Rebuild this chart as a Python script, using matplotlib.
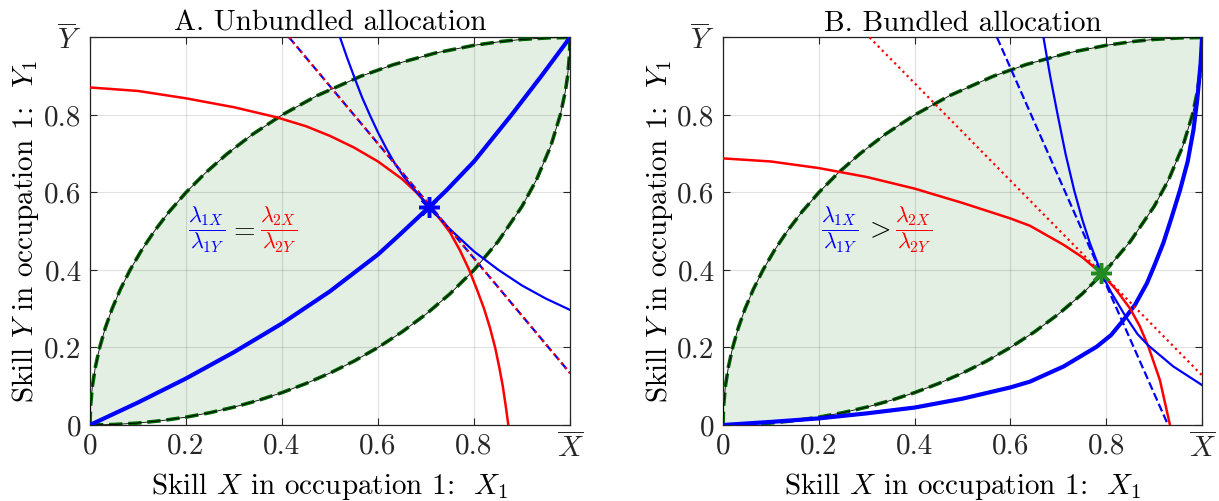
import numpy as np
import matplotlib
matplotlib.use("Agg")
import matplotlib.pyplot as plt

plt.rcParams['font.family'] = 'serif'
plt.rcParams['font.serif'] = ['cmr10']
plt.rcParams['mathtext.fontset'] = 'cm'
plt.rcParams['axes.formatter.use_mathtext'] = True

# lens boundary (lower edge); upper edge is the same curve mirrored
lens_x = [0, 0.05, 0.1, 0.15, 0.2, 0.25, 0.3, 0.35, 0.4, 0.45, 0.5, 0.55, 0.6,
          0.65, 0.7, 0.75, 0.8, 0.85, 0.9, 0.93, 0.96, 0.98, 0.99, 0.995, 0.999, 1.0]
lens_y = [0, 0.0013, 0.005, 0.0113, 0.0202, 0.0318, 0.0461, 0.0633, 0.0835, 0.107,
          0.134, 0.1648, 0.2, 0.2401, 0.2859, 0.3386, 0.4, 0.4732, 0.5641, 0.6324,
          0.72, 0.801, 0.859, 0.9, 0.955, 1.0]

# panel A
a_thick_x = [0, 0.1, 0.2, 0.3, 0.4, 0.5, 0.6, 0.646, 0.707, 0.743, 0.8, 0.878, 0.94, 1.0]
a_thick_y = [0, 0.058, 0.12, 0.188, 0.262, 0.345, 0.44, 0.492, 0.563, 0.606, 0.68, 0.8, 0.9, 1.0]
a_red_x = [0, 0.1, 0.2, 0.3, 0.389, 0.45, 0.5, 0.55, 0.6, 0.65, 0.68, 0.707, 0.73, 0.75,
           0.771, 0.79, 0.806, 0.821, 0.8335, 0.844, 0.8525, 0.86, 0.866, 0.8715]
a_red_y = [0.871, 0.862, 0.843, 0.82, 0.794, 0.771, 0.746, 0.716, 0.68, 0.635, 0.6,
           0.563, 0.53, 0.497, 0.45, 0.4, 0.35, 0.3, 0.25, 0.2, 0.15, 0.1, 0.05, 0]
a_ind_x = [0.521, 0.535, 0.552, 0.567, 0.583, 0.6, 0.618, 0.635, 0.653, 0.677, 0.707,
           0.75, 0.8, 0.85, 0.9, 0.95, 1.0]
a_ind_y = [1.0, 0.95, 0.893, 0.845, 0.8, 0.755, 0.712, 0.675, 0.642, 0.606, 0.563,
           0.505, 0.448, 0.401, 0.36, 0.326, 0.297]
a_tan_x = [0.415, 1.0]
a_tan_y = [1.0, 0.134]
a_eq = (0.707, 0.563)

# panel B
b_thick_x = [0, 0.1, 0.2, 0.3, 0.4, 0.5, 0.6, 0.641, 0.711, 0.78, 0.81, 0.836, 0.86,
             0.885, 0.9, 0.919, 0.935, 0.954, 0.97, 0.982, 0.99, 0.997, 1.0]
b_thick_y = [0, 0.008, 0.017, 0.03, 0.045, 0.068, 0.097, 0.112, 0.151, 0.202, 0.232,
             0.271, 0.31, 0.366, 0.41, 0.469, 0.53, 0.606, 0.68, 0.761, 0.84, 0.933, 1.0]
b_red_x = [0, 0.1, 0.2, 0.3, 0.4, 0.5, 0.6, 0.641, 0.711, 0.75, 0.79, 0.82, 0.85,
           0.87, 0.888, 0.912, 0.933]
b_red_y = [0.688, 0.68, 0.663, 0.64, 0.61, 0.573, 0.533, 0.514, 0.465, 0.433, 0.391,
           0.35, 0.3, 0.255, 0.202, 0.116, 0]
b_ind_x = [0.669, 0.683, 0.698, 0.715, 0.733, 0.75, 0.766, 0.79, 0.81, 0.838, 0.865,
           0.888, 0.94, 1.0]
b_ind_y = [1.0, 0.9, 0.804, 0.7, 0.606, 0.53, 0.469, 0.391, 0.343, 0.285, 0.235,
           0.205, 0.151, 0.103]
b_blue_line_x = [0.572, 0.929]
b_blue_line_y = [1.0, 0.0]
b_red_line_x = [0.306, 1.0]
b_red_line_y = [1.0, 0.128]
b_eq = (0.79, 0.391)

ticks = [0, 0.2, 0.4, 0.6, 0.8, 1.0]
xtick_labels = ['0', '0.2', '0.4', '0.6', '0.8', r'$\overline{X}$']
ytick_labels = ['0', '0.2', '0.4', '0.6', '0.8', r'$\overline{Y}$']

BLUE = '#0000ff'
RED = '#ff0000'
DKGREEN = '#006400'
FS = 21

fig = plt.figure(figsize=(12.19, 5.01), dpi=100)
axA = fig.add_axes([0.0738, 0.1517, 0.3938, 0.7735])
axB = fig.add_axes([0.5931, 0.1517, 0.3930, 0.7735])


def draw_lens(ax):
    px = list(lens_x) + list(lens_y[::-1])
    py = list(lens_y) + list(lens_x[::-1])
    ax.fill(px, py, color='#e3efe3', lw=0, zorder=1)
    for cx, cy in [(lens_x, lens_y), (lens_y, lens_x)]:
        ax.plot(cx, cy, color=DKGREEN, lw=2.6, ls='--', zorder=3)
        ax.plot(cx, cy, color='k', lw=0.6, zorder=3.1)


def style(ax, title):
    ax.set_xlim(0, 1)
    ax.set_ylim(0, 1)
    ax.set_xticks(ticks)
    ax.set_yticks(ticks)
    ax.set_xticklabels(xtick_labels, fontsize=FS)
    ax.set_yticklabels(ytick_labels, fontsize=FS)
    ax.tick_params(direction='in', top=True, right=True, length=5, pad=6, colors='#262626')
    ax.grid(True, color='k', alpha=0.12, lw=0.8)
    ax.set_axisbelow(False)
    for s in ax.spines.values():
        s.set_color('#262626')
        s.set_linewidth(0.9)
    ax.set_title(title, fontsize=FS, pad=5)
    ax.set_xlabel(r'Skill $X$ in occupation 1:  $X_1$', fontsize=FS, labelpad=5)
    ax.set_ylabel(r'Skill $Y$ in occupation 1:  $Y_1$', fontsize=FS, labelpad=2)


def ratio_text(ax, xs, rel, left, right):
    ax.text(xs[0], 0.503, left, color=BLUE, fontsize=16, ha='center', va='center', zorder=6)
    ax.text(xs[1], 0.503, rel, color='k', fontsize=20, ha='center', va='center', zorder=6)
    ax.text(xs[2], 0.503, right, color=RED, fontsize=16, ha='center', va='center', zorder=6)


# panel A
draw_lens(axA)
axA.plot(a_thick_x, a_thick_y, color=BLUE, lw=3, zorder=4)
axA.plot(a_red_x, a_red_y, color=RED, lw=1.8, zorder=4)
axA.plot(a_ind_x, a_ind_y, color=BLUE, lw=1.6, zorder=4)
axA.plot(a_tan_x, a_tan_y, color=BLUE, lw=1.6, ls='--', zorder=4)
axA.plot(a_tan_x, a_tan_y, color=RED, lw=1.6, ls=':', zorder=4.1)
axA.plot(*a_eq, marker=(8, 2, 0), ms=15, mew=2.5, color=BLUE, zorder=5)
ratio_text(axA, [0.242, 0.318, 0.393], r'$=$',
           r'$\dfrac{\lambda_{1X}}{\lambda_{1Y}}$', r'$\dfrac{\lambda_{2X}}{\lambda_{2Y}}$')
style(axA, 'A. Unbundled allocation')

# panel B
draw_lens(axB)
axB.plot(b_thick_x, b_thick_y, color=BLUE, lw=3, zorder=4)
axB.plot(b_red_x, b_red_y, color=RED, lw=1.8, zorder=4)
axB.plot(b_ind_x, b_ind_y, color=BLUE, lw=1.6, zorder=4)
axB.plot(b_blue_line_x, b_blue_line_y, color=BLUE, lw=1.6, ls='--', zorder=4)
axB.plot(b_red_line_x, b_red_line_y, color=RED, lw=1.6, ls=':', zorder=4)
axB.plot(*b_eq, marker=(8, 2, 0), ms=15, mew=2.5, color='#228b22', zorder=5)
ratio_text(axB, [0.243, 0.323, 0.397], r'$>$',
           r'$\dfrac{\lambda_{1X}}{\lambda_{1Y}}$', r'$\dfrac{\lambda_{2X}}{\lambda_{2Y}}$')
style(axB, 'B. Bundled allocation')

fig.savefig('out.png', dpi=100)
